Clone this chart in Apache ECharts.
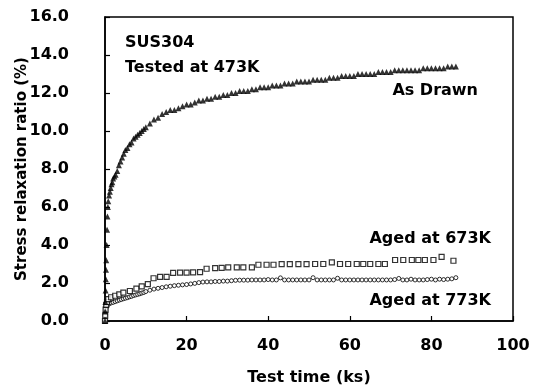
<!DOCTYPE html>
<html>
<head>
<meta charset="utf-8">
<script src="https://cdn.jsdelivr.net/npm/echarts@6/dist/echarts.min.js"></script>
<style>html,body{margin:0;padding:0;background:#fff}#c{width:539px;height:389px}</style>
</head>
<body>
<div id="c"></div>
<script>
var xTicks = [0, 20, 40, 60, 80, 100];
var yTicks = [0, 2, 4, 6, 8, 10, 12, 14, 16];
var xTitle = 'Test time (ks)';
var yTitle = 'Stress relaxation ratio (%)';

var drawnX = [0,0.05,0.1,0.15,0.2,0.25,0.3,0.4,0.5,0.6,0.7,0.8,1.0,1.2,1.4,1.6,1.8,2.0,2.3,2.6,3.0,3.4,3.8,4.2,4.6,5.0,5.5,6.0,6.5,7.0,7.5,8.0,8.5,9.0,9.5,10,11,12,13,14,15,16,17,18,19,20,21,22,23,24,25,26,27,28,29,30,31,32,33,34,35,36,37,38,39,40,41,42,43,44,45,46,47,48,49,50,51,52,53,54,55,56,57,58,59,60,61,62,63,64,65,66,67,68,69,70,71,72,73,74,75,76,77,78,79,80,81,82,83,84,85,86];
var drawnY = [0,0.5,1.0,1.6,2.2,2.7,3.2,4.0,4.8,5.5,6.0,6.3,6.6,6.8,7.0,7.2,7.3,7.5,7.6,7.7,7.9,8.2,8.4,8.6,8.8,9.0,9.1,9.3,9.4,9.6,9.7,9.8,9.9,10.0,10.1,10.2,10.4,10.6,10.7,10.9,11.0,11.1,11.1,11.2,11.3,11.4,11.4,11.5,11.6,11.6,11.7,11.7,11.8,11.8,11.9,11.9,12.0,12.0,12.1,12.1,12.1,12.2,12.2,12.3,12.3,12.3,12.4,12.4,12.4,12.5,12.5,12.5,12.6,12.6,12.6,12.6,12.7,12.7,12.7,12.7,12.8,12.8,12.8,12.9,12.9,12.9,12.9,13.0,13.0,13.0,13.0,13.0,13.1,13.1,13.1,13.1,13.2,13.2,13.2,13.2,13.2,13.2,13.2,13.3,13.3,13.3,13.3,13.3,13.3,13.4,13.4,13.4];

var aged673X = [0,0.05,0.15,0.3,0.5,0.8,1.5,2.5,3.5,4.5,6.1,7.7,9.0,10.5,11.9,13.5,15.1,16.7,18.4,20.0,21.6,23.3,24.9,27.0,28.6,30.2,32.3,33.9,36.0,37.6,39.6,41.3,43.3,45.3,47.4,49.4,51.5,53.5,55.6,57.6,59.6,61.7,63.3,65.0,67.0,68.6,71.1,73.1,75.2,76.8,78.4,80.5,82.5,85.4];
var aged673Y = [0,0.3,0.6,0.85,1.0,1.15,1.25,1.33,1.40,1.49,1.58,1.70,1.82,1.94,2.25,2.32,2.32,2.53,2.55,2.55,2.56,2.57,2.75,2.78,2.80,2.82,2.82,2.82,2.82,2.96,2.96,2.96,2.99,2.99,2.99,2.99,3.0,3.0,3.09,3.0,3.0,3.0,3.0,3.0,3.0,3.0,3.21,3.21,3.21,3.21,3.21,3.21,3.38,3.17];

var aged773X = [0,0.05,0.1,0.2,0.3,0.5,0.75,1,1.5,2,2.5,3,3.5,4,4.5,5,5.5,6,6.5,7,7.5,8,8.5,9,9.5,10,11,12,13,14,15,16,17,18,19,20,21,22,23,24,25,26,27,28,29,30,31,32,33,34,35,36,37,38,39,40,41,42,43,44,45,46,47,48,49,50,51,52,53,54,55,56,57,58,59,60,61,62,63,64,65,66,67,68,69,70,71,72,73,74,75,76,77,78,79,80,81,82,83,84,85,86];
var aged773Y = [0,0.3,0.5,0.65,0.75,0.82,0.88,0.9,0.95,0.98,1.02,1.06,1.1,1.13,1.17,1.2,1.23,1.27,1.3,1.34,1.37,1.4,1.43,1.47,1.5,1.55,1.62,1.68,1.72,1.76,1.8,1.83,1.86,1.88,1.9,1.92,1.95,1.98,2.02,2.05,2.06,2.06,2.08,2.08,2.1,2.1,2.12,2.14,2.15,2.15,2.15,2.16,2.16,2.16,2.16,2.18,2.16,2.16,2.27,2.16,2.16,2.16,2.16,2.16,2.16,2.16,2.28,2.16,2.16,2.16,2.16,2.16,2.25,2.16,2.16,2.16,2.16,2.16,2.16,2.16,2.16,2.16,2.16,2.16,2.16,2.16,2.18,2.24,2.16,2.16,2.2,2.16,2.16,2.16,2.18,2.2,2.16,2.2,2.18,2.2,2.22,2.28];

function zip(xs, ys) { return xs.map(function (x, i) { return [x, ys[i]]; }); }

var FONT = 'DejaVu Sans';
var chart = echarts.init(document.getElementById('c'), null, {renderer: 'canvas'});
var txt = function (t, x, y, align, size) {
  return {type: 'text', x: x, y: y, style: {text: t, font: 'bold ' + (size || 16) + 'px "' + FONT + '"', fill: '#000', textAlign: align || 'left', textVerticalAlign: 'middle'}};
};
var yName = txt(yTitle, 22, 169, 'center', 15);
yName.rotation = Math.PI / 2;
chart.setOption({
  animation: false,
  backgroundColor: '#fff',
  grid: {left: 105, right: 26, top: 17, bottom: 68, containLabel: false, outerBoundsMode: 'none',
         show: true, borderColor: '#000', borderWidth: 1.5, backgroundColor: 'transparent'},
  xAxis: {
    type: 'value', min: xTicks[0], max: xTicks[xTicks.length - 1], interval: 20,
    axisLine: {show: true, lineStyle: {color: '#000', width: 1.5}},
    axisTick: {show: true, inside: true, length: 5, lineStyle: {color: '#000', width: 1.2}},
    splitLine: {show: false},
    axisLabel: {color: '#000', fontFamily: FONT, fontWeight: 'bold', fontSize: 16, margin: 17},
    name: xTitle, nameLocation: 'middle', nameGap: 49,
    nameTextStyle: {color: '#000', fontFamily: FONT, fontWeight: 'bold', fontSize: 16}
  },
  yAxis: {
    type: 'value', min: yTicks[0], max: yTicks[yTicks.length - 1], interval: 2,
    axisLine: {show: true, lineStyle: {color: '#000', width: 1.5}},
    axisTick: {show: true, inside: true, length: 5, lineStyle: {color: '#000', width: 1.2}},
    splitLine: {show: false},
    axisLabel: {color: '#000', fontFamily: FONT, fontWeight: 'bold', fontSize: 16, margin: 36, formatter: function (v) { return v.toFixed(1); }}
  },
  series: [
    {name: 'Aged at 773K', type: 'scatter', symbol: 'circle', symbolSize: 4, data: zip(aged773X, aged773Y),
     itemStyle: {color: '#fff', borderColor: '#000', borderWidth: 1}},
    {name: 'Aged at 673K', type: 'scatter', symbol: 'rect', symbolSize: 5, data: zip(aged673X, aged673Y),
     itemStyle: {color: '#fff', borderColor: '#000', borderWidth: 1.2}},
    {name: 'As Drawn', type: 'scatter', symbol: 'triangle', symbolSize: 6, data: zip(drawnX, drawnY),
     itemStyle: {color: '#000'}}
  ],
  graphic: [
    yName,
    txt('SUS304', 125, 43),
    txt('Tested at 473K', 125, 68),
    txt('As Drawn', 478, 91, 'right'),
    txt('Aged at 673K', 491, 239, 'right'),
    txt('Aged at 773K', 491, 301, 'right')
  ]
});
</script>
</body>
</html>
